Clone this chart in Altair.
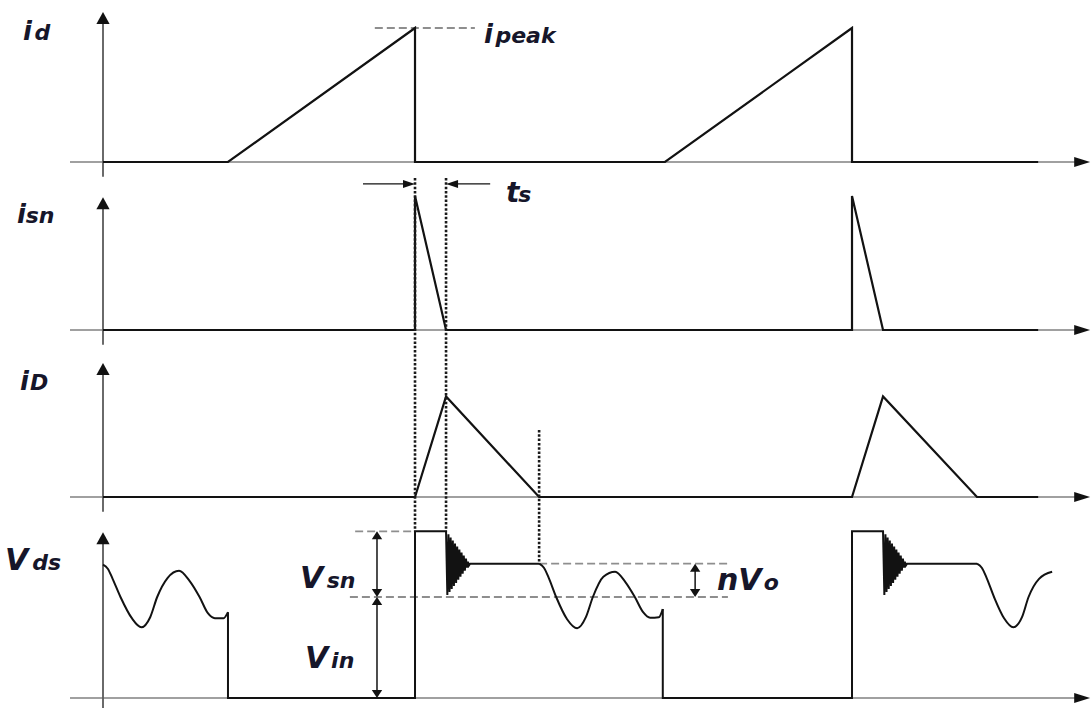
import altair as alt
import pandas as pd

# Flyback switching waveforms with an RCD snubber.
# Time in arbitrary units (switching period = 10); currents in units of
# i_peak, V_ds in units of V_in.

# primary (drain) current i_d
ID_T = [0.0, 2.86, 7.14, 7.14, 12.86, 17.14, 17.14, 21.4]
ID_V = [0.0, 0.0, 1.0, 0.0, 0.0, 1.0, 0.0, 0.0]

# snubber current i_sn
ISN_T = [0.0, 7.14, 7.14, 7.85, 17.14, 17.14, 17.85, 21.4]
ISN_V = [0.0, 0.0, 1.0, 0.0, 0.0, 1.0, 0.0, 0.0]

# output diode current i_D
IDIO_T = [0.0, 7.14, 7.85, 9.98, 17.14, 17.85, 20.0, 21.4]
IDIO_V = [0.0, 0.0, 0.75, 0.0, 0.0, 0.75, 0.0, 0.0]

# V_ds resonant valleys after the secondary current has run out
VALLEY1_T = [0.0, 0.11, 0.22, 0.40, 0.66, 0.88, 1.08, 1.24, 1.48, 1.74, 1.98, 2.21, 2.40, 2.56, 2.76, 2.86]
VALLEY1_V = [1.32, 1.28, 1.18, 1.00, 0.79, 0.70, 0.80, 1.00, 1.19, 1.26, 1.16, 1.00, 0.84, 0.79, 0.79, 0.85]
VALLEY2_T = [9.98, 10.09, 10.20, 10.37, 10.62, 10.85, 11.05, 11.21, 11.45, 11.72, 11.95, 12.17, 12.36, 12.52, 12.72, 12.81]
VALLEY2_V = [1.33, 1.29, 1.19, 1.00, 0.78, 0.69, 0.80, 1.00, 1.20, 1.25, 1.15, 1.00, 0.85, 0.795, 0.80, 0.88]
VALLEY3_T = [20.0, 20.11, 20.22, 20.39, 20.62, 20.83, 21.03, 21.18, 21.42, 21.72]
VALLEY3_V = [1.33, 1.29, 1.19, 1.00, 0.79, 0.70, 0.80, 1.00, 1.18, 1.25]

# turn-on drop, off interval and clamped turn-off edge
EDGE1_T = [2.86, 2.86, 7.14, 7.14, 7.85]
EDGE1_V = [0.85, 0.0, 0.0, 1.65, 1.65]
EDGE2_T = [12.81, 12.81, 17.14, 17.14, 17.85]
EDGE2_V = [0.88, 0.0, 0.0, 1.65, 1.65]

# leakage ringing after the snubber stops conducting (offset from t_s end)
RING_DT = [0.0, 0.03, 0.055, 0.08, 0.105, 0.13, 0.155, 0.18, 0.205, 0.23, 0.255,
           0.28, 0.305, 0.33, 0.355, 0.38, 0.405, 0.43, 0.455, 0.48, 0.50, 0.52, 0.55]
RING_V = [1.65, 1.02, 1.62, 1.05, 1.59, 1.08, 1.56, 1.11, 1.53, 1.14, 1.50,
          1.17, 1.47, 1.20, 1.44, 1.23, 1.41, 1.26, 1.38, 1.29, 1.35, 1.31, 1.33]
RING_START = [7.85, 17.85]
PLATEAU_END = [9.98, 20.0]
V_PLATEAU = 1.33   # V_in + nV_o
V_CLAMP = 1.65     # V_in + V_sn
V_IN = 1.0

# labels: main symbol + subscript
LABEL_MAIN = ["i", "i", "t", "i", "i", "V", "V", "V", "nV"]
LABEL_SUB = ["d", "peak", "s", "sn", "D", "ds", "sn", "in", "o"]

# ---------------- layout ----------------
W, H = 1091, 710
X_DOMAIN = [-2.357, 22.609]
BASE = {"id": 162, "isn": 330, "iD": 497, "vds": 698}
GAIN = {"id": 134, "isn": 134, "iD": 134, "vds": 101}
PANELS = ["id", "isn", "iD", "vds"]
AXIS_TIP = {"id": 1.12, "isn": 0.99, "iD": 1.0, "vds": 1.64}
AXIS_TAIL = {"id": -0.11, "isn": -0.11, "iD": -0.11, "vds": -0.10}

INK = "#121212"
AXIS_GREY = "#808080"
DASH_GREY = "#8e8e8e"
TEXT_INK = "#16162a"


def row(p, v):
    return BASE[p] - GAIN[p] * v


def trace(p, ts, vs):
    return [(t, p, v) for t, v in zip(ts, vs)]


def seg_frame(segments):
    recs = []
    for sid, pts in enumerate(segments):
        for k, (t, p, v) in enumerate(pts):
            recs.append(dict(seg=sid, k=k, t=t, row=row(p, v)))
    return pd.DataFrame(recs)


def pt_frame(pts):
    return pd.DataFrame([dict(t=t, row=row(p, v)) for t, p, v in pts])


XS = alt.Scale(domain=X_DOMAIN, nice=False, zero=False)
YS = alt.Scale(domain=[0, H], reverse=True, nice=False, zero=False)


def lines(segments, color, width, dash=None, interp="linear"):
    kw = dict(color=color, strokeWidth=width, interpolate=interp)
    if dash:
        kw["strokeDash"] = dash
    return alt.Chart(seg_frame(segments)).mark_line(**kw).encode(
        x=alt.X("t:Q", scale=XS, axis=None),
        y=alt.Y("row:Q", scale=YS, axis=None),
        detail="seg:N",
        order="k:Q",
    )


def heads(pts, path, size, color=INK):
    return alt.Chart(pt_frame(pts)).mark_point(
        shape=path, size=size, filled=True, color=color, opacity=1, strokeWidth=0
    ).encode(
        x=alt.X("t:Q", scale=XS, axis=None),
        y=alt.Y("row:Q", scale=YS, axis=None),
    )


# arrowhead outlines with the tip at the origin
UP = "M0,0L0.55,1L-0.55,1Z"
RIGHT = "M0,0L-1,-0.31L-1,0.31Z"
LEFT = "M0,0L1,-0.33L1,0.33Z"
RIGHT_S = "M0,0L-1,-0.33L-1,0.33Z"
UP_S = "M0,0L0.65,1L-0.65,1Z"
DOWN_S = "M0,0L0.65,-1L-0.65,-1Z"

layers = []

# axes
layers.append(lines([trace(p, [-0.755, 22.3], [0, 0]) for p in PANELS], AXIS_GREY, 1.6))
layers.append(lines([[(0, p, AXIS_TAIL[p]), (0, p, AXIS_TIP[p] - 6 / GAIN[p])] for p in PANELS], "#5a5a5a", 1.8))
layers.append(heads([(0, p, AXIS_TIP[p]) for p in PANELS], UP, 576, "#111"))
layers.append(heads([(22.59, p, 0) for p in PANELS], RIGHT, 1024, "#111"))

# dashed reference levels
dashed = [
    trace("id", [6.22, 8.51], [1.0, 1.0]),
    trace("vds", [5.77, 7.14], [V_CLAMP, V_CLAMP]),
    trace("vds", [5.65, 14.30], [V_IN, V_IN]),
    trace("vds", [9.98, 14.30], [V_PLATEAU, V_PLATEAU]),
]
layers.append(lines(dashed, DASH_GREY, 1.9, dash=[8, 4]))

# current waveforms
layers.append(lines([trace("id", ID_T, ID_V), trace("isn", ISN_T, ISN_V), trace("iD", IDIO_T, IDIO_V)], INK, 2.2))

# V_ds: switching edges, ringing and plateau (piecewise linear)
pulses = []
for (et, ev), t0, tend in zip([(EDGE1_T, EDGE1_V), (EDGE2_T, EDGE2_V)], RING_START, PLATEAU_END):
    ts = list(et) + [t0 + d for d in RING_DT] + [tend]
    vs = list(ev) + list(RING_V) + [V_PLATEAU]
    pulses.append(trace("vds", ts, vs))
layers.append(lines(pulses, INK, 2.0))

# V_ds resonant valleys (smooth)
valleys = [
    trace("vds", VALLEY1_T, VALLEY1_V),
    trace("vds", VALLEY2_T, VALLEY2_V),
    trace("vds", VALLEY3_T, VALLEY3_V),
]
layers.append(lines(valleys, INK, 2.0, interp="monotone"))

# dotted timing markers
dotted = [
    [(7.14, "isn", 1.134), (7.14, "vds", V_CLAMP)],
    [(7.85, "isn", 1.134), (7.85, "vds", V_CLAMP)],
    [(9.98, "iD", 0.5), (9.98, "vds", V_PLATEAU)],
]
layers.append(lines(dotted, "#1a1a1a", 2.6, dash=[2.5, 1.8]))

# t_s dimension arrows
layers.append(lines([trace("isn", [5.95, 7.0], [1.09, 1.09]), trace("isn", [8.0, 8.86], [1.09, 1.09])], INK, 1.3))
layers.append(heads([(7.14, "isn", 1.09)], RIGHT_S, 576))
layers.append(heads([(7.85, "isn", 1.09)], LEFT, 576))

# V_sn, V_in and nV_o dimension arrows
dims = [
    trace("vds", [6.27, 6.27], [V_IN + 0.05, V_CLAMP - 0.05]),
    trace("vds", [6.27, 6.27], [0.05, V_IN - 0.05]),
    trace("vds", [13.55, 13.55], [V_IN + 0.05, V_PLATEAU - 0.05]),
]
layers.append(lines(dims, INK, 1.5))
layers.append(heads([(6.27, "vds", V_CLAMP), (6.27, "vds", V_IN), (13.55, "vds", V_PLATEAU)], UP_S, 256))
layers.append(heads([(6.27, "vds", V_IN), (6.27, "vds", 0.0), (13.55, "vds", V_IN)], DOWN_S, 256))

# label placement: (t of main symbol, t of subscript, panel, baseline level, main size)
LABEL_AT = [
    (-1.83, -1.57, "id", 0.91, 26),
    (8.72, 8.98, "id", 0.888, 26),
    (9.22, 9.50, "isn", 0.955, 28),
    (-1.97, -1.77, "isn", 0.80, 26),
    (-1.90, -1.67, "iD", 0.80, 26),
    (-2.24, -1.62, "vds", 1.267, 30),
    (4.51, 5.12, "vds", 1.089, 30),
    (4.62, 5.22, "vds", 0.297, 30),
    (14.05, 15.12, "vds", 1.069, 30),
]
FONT = dict(font="DejaVu Sans", fontStyle="italic", fontWeight="bold", color=TEXT_INK,
            align="left", baseline="alphabetic")
main_df = pd.DataFrame([dict(t=a[0], row=row(a[2], a[3]), txt=m, fs=a[4])
                        for a, m in zip(LABEL_AT, LABEL_MAIN)])
sub_df = pd.DataFrame([dict(t=a[1], row=row(a[2], a[3]), txt=s)
                       for a, s in zip(LABEL_AT, LABEL_SUB)])
layers.append(alt.Chart(main_df).mark_text(**FONT).encode(
    x=alt.X("t:Q", scale=XS, axis=None),
    y=alt.Y("row:Q", scale=YS, axis=None),
    text="txt:N",
    size=alt.Size("fs:Q", scale=None, legend=None),
))
layers.append(alt.Chart(sub_df).mark_text(fontSize=22, **FONT).encode(
    x=alt.X("t:Q", scale=XS, axis=None),
    y=alt.Y("row:Q", scale=YS, axis=None),
    text="txt:N",
))

chart = alt.layer(*layers).properties(
    width=W, height=H, padding=0, autosize="none", background="white"
).configure_view(strokeWidth=0)

chart.save("out.html", embed_options={"renderer": "svg", "actions": False})
